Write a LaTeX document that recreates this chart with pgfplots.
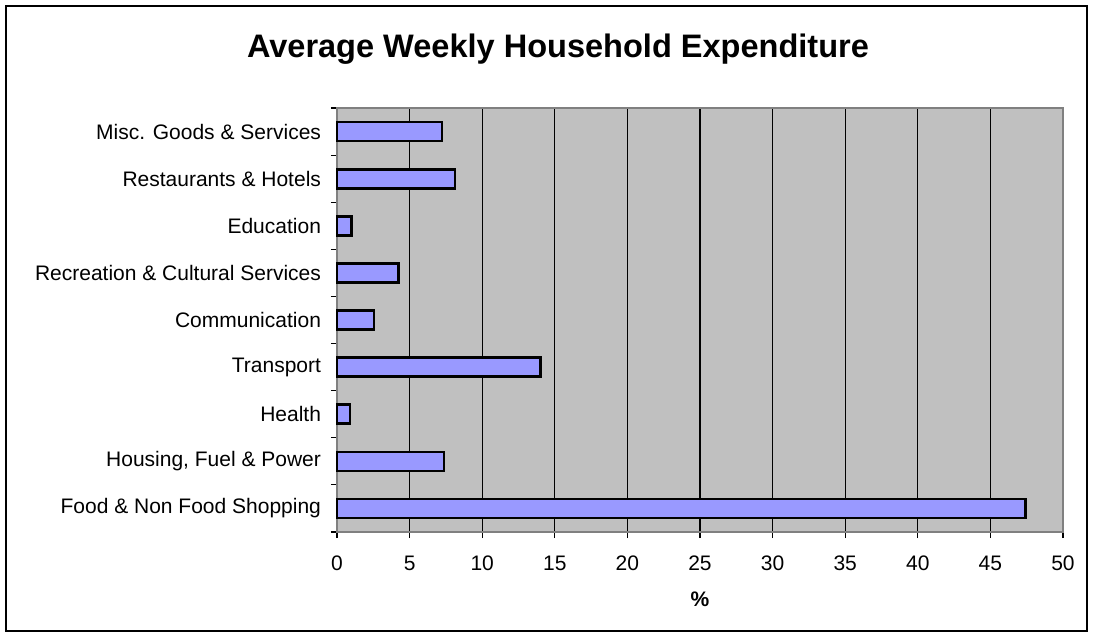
\documentclass[border=0pt]{standalone}
\usepackage{pgfplots}
\pgfplotsset{compat=1.18}
\usepackage{fontspec}
\setmainfont{Liberation Sans}
\definecolor{barfill}{HTML}{9999FF}
\definecolor{plotbg}{HTML}{C0C0C0}
\definecolor{axgray}{HTML}{808080}
\begin{document}
\begin{tikzpicture}
\path[use as bounding box] (0,0) rectangle (819.75pt,477.75pt);
\draw[black, line width=1.1pt] (4.5pt,4.5pt) rectangle (815.25pt,473.25pt);
\node[anchor=base, font=\fontsize{24.4}{28}\selectfont\bfseries] at (418.5pt,434.25pt) {Average Weekly Household Expenditure};
\begin{axis}[
  at={(252.75pt,78.75pt)}, anchor=south west,
  scale only axis, width=544.5pt, height=318pt,
  xmin=0, xmax=50, ymin=-0.5, ymax=8.5,
  axis background/.style={fill=plotbg},
  axis line style={draw=axgray, line width=1.3pt},
  xtick={0,5,...,50},
  xtick pos=bottom, ytick pos=left,
  xmajorgrids, major grid style={black, line width=0.85pt},
  ytick={0,...,8},
  yticklabels={Food \& Non Food Shopping, {Housing, Fuel \& Power}, Health, Transport, Communication, Recreation \& Cultural Services, Education, Restaurants \& Hotels, Misc. Goods \& Services},
  minor ytick={-0.5,0.5,...,8.5},
  tick align=outside,
  major tick length=4.5pt,
  minor tick length=4.5pt,
  every tick/.style={black, line width=0.8pt},
  y tick style={draw=none},
  minor y tick style={draw=black, line width=0.8pt},
  x tick label style={font=\fontsize{15.75}{18}\selectfont, anchor=base, yshift=-24pt},
  y tick label style={font=\fontsize{15.75}{18}\selectfont, xshift=-4pt},
  xlabel={\textbf{\%}},
  xlabel style={font=\fontsize{15.75}{18}\selectfont, at={(axis description cs:0.5,0)}, anchor=base, yshift=-55.5pt},
  /pgf/number format/assume math mode=true,
  clip=false,
]
\addplot[xbar, bar width=14.25pt, fill=barfill, draw=black, line width=2pt] coordinates {
  (47.4,0) (7.37,1) (0.9,2) (14.03,3) (2.55,4) (4.22,5) (1.01,6) (8.13,7) (7.23,8)
};
\end{axis}
\end{tikzpicture}
\end{document}
